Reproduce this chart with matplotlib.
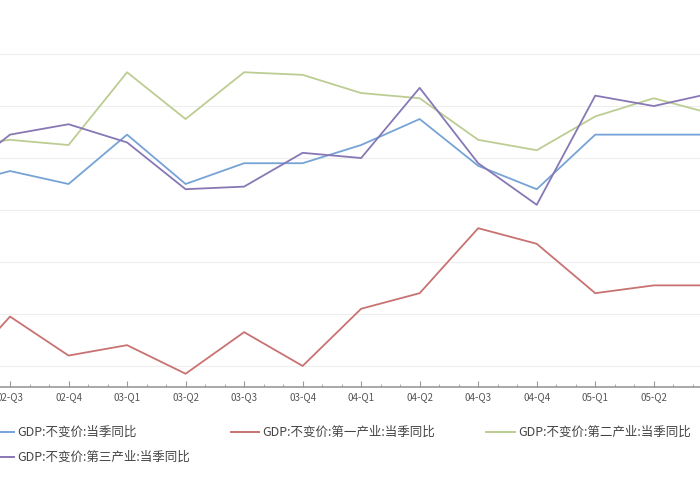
import matplotlib
matplotlib.use("Agg")
import matplotlib.pyplot as plt
from matplotlib.lines import Line2D
from matplotlib.ticker import MultipleLocator
import numpy as np

plt.rcParams['font.family'] = ['Noto Sans CJK SC', 'DejaVu Sans']

quarters = ["02-Q2", "02-Q3", "02-Q4", "03-Q1", "03-Q2", "03-Q3", "03-Q4",
            "04-Q1", "04-Q2", "04-Q3", "04-Q4", "05-Q1", "05-Q2", "05-Q3"]
gdp_total = [8.9, 9.5, 9.0, 10.9, 9.0, 9.8, 9.8, 10.5, 11.5, 9.7, 8.8, 10.9, 10.9, 10.9]
gdp_primary = [1.4, 3.9, 2.4, 2.8, 1.7, 3.3, 2.0, 4.2, 4.8, 7.3, 6.7, 4.8, 5.1, 5.1]
gdp_secondary = [10.4, 10.7, 10.5, 13.3, 11.5, 13.3, 13.2, 12.5, 12.3, 10.7, 10.3, 11.6, 12.3, 11.7]
gdp_tertiary = [9.1, 10.9, 11.3, 10.6, 8.8, 8.9, 10.2, 10.0, 12.7, 9.8, 8.2, 12.4, 12.0, 12.5]

labels = ["GDP:不变价:当季同比", "GDP:不变价:第一产业:当季同比",
          "GDP:不变价:第二产业:当季同比", "GDP:不变价:第三产业:当季同比"]
colors = ["#76a3d6", "#c97272", "#bccd93", "#8778b5"]

fig = plt.figure(figsize=(7, 5), dpi=100)
ax = fig.add_axes([0, 0.226, 1, 0.774])
x = np.arange(len(quarters)) - 1
for s, c in zip([gdp_total, gdp_primary, gdp_secondary, gdp_tertiary], colors):
    ax.plot(x, s, color=c, lw=1.3)

ax.set_xticks(x)
ax.set_xticklabels(quarters, fontsize=7, color='#555555')
ax.xaxis.set_minor_locator(MultipleLocator(1/3))
ax.set_xlim(-0.171, 11.79)
ax.set_ylim(1.19, 16.08)
ax.set_yticks(np.arange(2, 16, 2))
ax.grid(axis='y', color='#eeeeee', lw=0.8)
ax.set_axisbelow(True)
ax.tick_params(axis='y', left=False, labelleft=False)
ax.tick_params(axis='x', which='major', length=4, color='#999999', direction='in', pad=4)
ax.tick_params(axis='x', which='minor', length=2, color='#999999', direction='in')
for sp in ['top', 'left', 'right']:
    ax.spines[sp].set_visible(False)
ax.spines['bottom'].set_color('#999999')
ax.spines['bottom'].set_linewidth(1.2)

# legend
pos = [(-0.02, 0.136), (0.33, 0.136), (0.695, 0.136), (-0.02, 0.086)]
for (lx, ly), lab, c in zip(pos, labels, colors):
    fig.add_artist(Line2D([lx, lx + 0.04], [ly, ly], color=c, lw=1.4, transform=fig.transFigure))
    fig.text(lx + 0.045, ly, lab, fontsize=9, color='#444444', va='center', ha='left')

fig.savefig("out.png", dpi=100)
